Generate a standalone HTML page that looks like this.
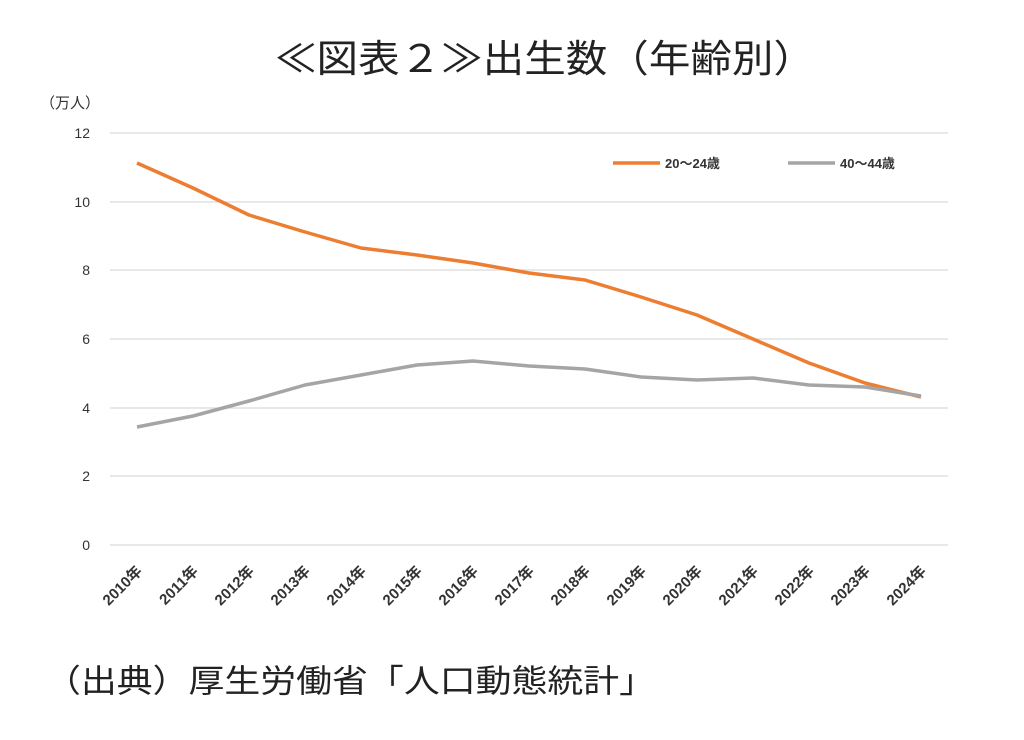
<!DOCTYPE html>
<html><head><meta charset="utf-8"><style>
body{margin:0;background:#fff;width:1024px;height:735px;overflow:hidden}
svg text{font-family:"Liberation Sans","Noto Sans CJK JP",sans-serif}
</style></head><body>
<svg width="1024" height="735" viewBox="0 0 1024 735">
<text x="545" y="72" text-anchor="middle" font-size="38" fill="#222" textLength="540" lengthAdjust="spacingAndGlyphs">≪図表２≫出生数（年齢別）</text>
<text x="40" y="108" font-size="15" fill="#333">（万人）</text>
<g stroke="#d9d9d9" stroke-width="1.2">
<line x1="110" y1="133" x2="948" y2="133"/><line x1="110" y1="202" x2="948" y2="202"/>
<line x1="110" y1="270" x2="948" y2="270"/><line x1="110" y1="339" x2="948" y2="339"/>
<line x1="110" y1="408" x2="948" y2="408"/><line x1="110" y1="476" x2="948" y2="476"/>
<line x1="110" y1="545" x2="948" y2="545"/>
</g>
<g font-size="14" fill="#333" text-anchor="end">
<text x="90" y="138">12</text><text x="90" y="207">10</text><text x="90" y="275">8</text>
<text x="90" y="344">6</text><text x="90" y="413">4</text><text x="90" y="481">2</text><text x="90" y="550">0</text>
</g>
<polyline fill="none" stroke="#ed7d31" stroke-width="3.5" stroke-linejoin="round" points="137,163 193,188 249,215 305,232 361,248 417,255 473,263 529,273 585,280 641,297 697,315 753,339 809,363 865,383 921,397"/>
<polyline fill="none" stroke="#a5a5a5" stroke-width="3.5" stroke-linejoin="round" points="137,427 193,416 249,401 305,385 361,375 417,365 473,361 529,366 585,369 641,377 697,380 753,378 809,385 865,387 921,396"/>
<line x1="613" y1="163" x2="660" y2="163" stroke="#ed7d31" stroke-width="3.5"/>
<text x="665" y="168" font-size="13" font-weight="bold" fill="#333">20～24歳</text>
<line x1="788" y1="163" x2="835" y2="163" stroke="#a5a5a5" stroke-width="3.5"/>
<text x="840" y="168" font-size="13" font-weight="bold" fill="#333">40～44歳</text>
<g font-size="15" font-weight="bold" fill="#333" text-anchor="end">
<text transform="translate(143,572) rotate(-45)">2010年</text>
<text transform="translate(199,572) rotate(-45)">2011年</text>
<text transform="translate(255,572) rotate(-45)">2012年</text>
<text transform="translate(311,572) rotate(-45)">2013年</text>
<text transform="translate(367,572) rotate(-45)">2014年</text>
<text transform="translate(423,572) rotate(-45)">2015年</text>
<text transform="translate(479,572) rotate(-45)">2016年</text>
<text transform="translate(535,572) rotate(-45)">2017年</text>
<text transform="translate(591,572) rotate(-45)">2018年</text>
<text transform="translate(647,572) rotate(-45)">2019年</text>
<text transform="translate(703,572) rotate(-45)">2020年</text>
<text transform="translate(759,572) rotate(-45)">2021年</text>
<text transform="translate(815,572) rotate(-45)">2022年</text>
<text transform="translate(871,572) rotate(-45)">2023年</text>
<text transform="translate(927,572) rotate(-45)">2024年</text>
</g>
<text x="45" y="692" font-size="32" fill="#222" textLength="610" lengthAdjust="spacingAndGlyphs">（出典）厚生労働省「人口動態統計」</text>
</svg>
</body></html>
